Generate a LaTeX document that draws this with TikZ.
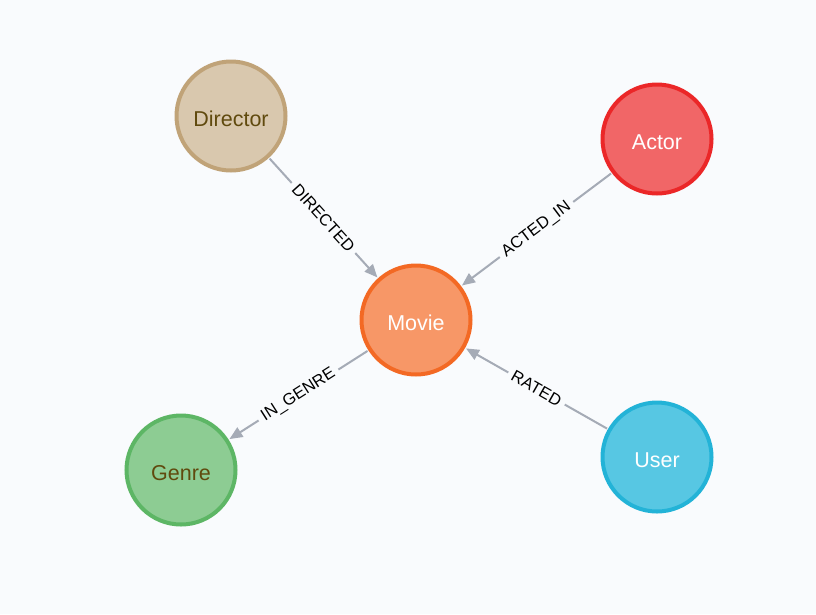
\documentclass[tikz,border=0pt]{standalone}
\usepackage{fontspec}
\setmainfont{Liberation Sans}
\usetikzlibrary{arrows.meta}
\definecolor{bg}{HTML}{F9FBFD}
\definecolor{relgray}{HTML}{A5ABB6}
\definecolor{dirfill}{HTML}{D9C8AE}
\definecolor{dirline}{HTML}{C0A378}
\definecolor{dirtext}{HTML}{604A0E}
\definecolor{movfill}{HTML}{F79767}
\definecolor{movline}{HTML}{F36924}
\definecolor{actfill}{HTML}{F16667}
\definecolor{actline}{HTML}{EB2728}
\definecolor{genfill}{HTML}{8DCC93}
\definecolor{genline}{HTML}{5DB665}
\definecolor{usrfill}{HTML}{57C7E3}
\definecolor{usrline}{HTML}{23B3D7}
\tikzset{
  label node/.style={circle, line width=4pt, minimum size=109pt, inner sep=0pt,
    outer sep=3pt, text height=21pt, text depth=0pt,
    font=\fontsize{21.5}{21.5}\selectfont},
  rel/.style={draw=relgray, line width=2pt, -{Triangle[length=13pt,width=11pt]}},
  rel label/.style={fill=bg, sloped, inner sep=5pt, text=black,
    font=\fontsize{16.5}{16.5}\selectfont}
}

\begin{document}
\begin{tikzpicture}[x=1pt,y=-1pt]
\fill [bg] (0,0) rectangle (816,614);
\useasboundingbox (0,0) rectangle (816,614);
\node [label node, fill=dirfill, draw=dirline, text=dirtext] (director) at (231,116) {Director};
\node [label node, fill=actfill, draw=actline, text=white] (actor) at (657,139) {Actor};
\node [label node, fill=movfill, draw=movline, text=white] (movie) at (416,320) {Movie};
\node [label node, fill=genfill, draw=genline, text=dirtext] (genre) at (181,470) {Genre};
\node [label node, fill=usrfill, draw=usrline, text=white] (user) at (657,457) {User};
\draw [rel] (director) -- node [rel label] {DIRECTED} (movie);
\draw [rel] (actor) -- node [rel label] {ACTED\_IN} (movie);
\draw [rel] (movie) -- node [rel label] {IN\_GENRE} (genre);
\draw [rel] (user) -- node [rel label] {RATED} (movie);
\end{tikzpicture}
\end{document}
